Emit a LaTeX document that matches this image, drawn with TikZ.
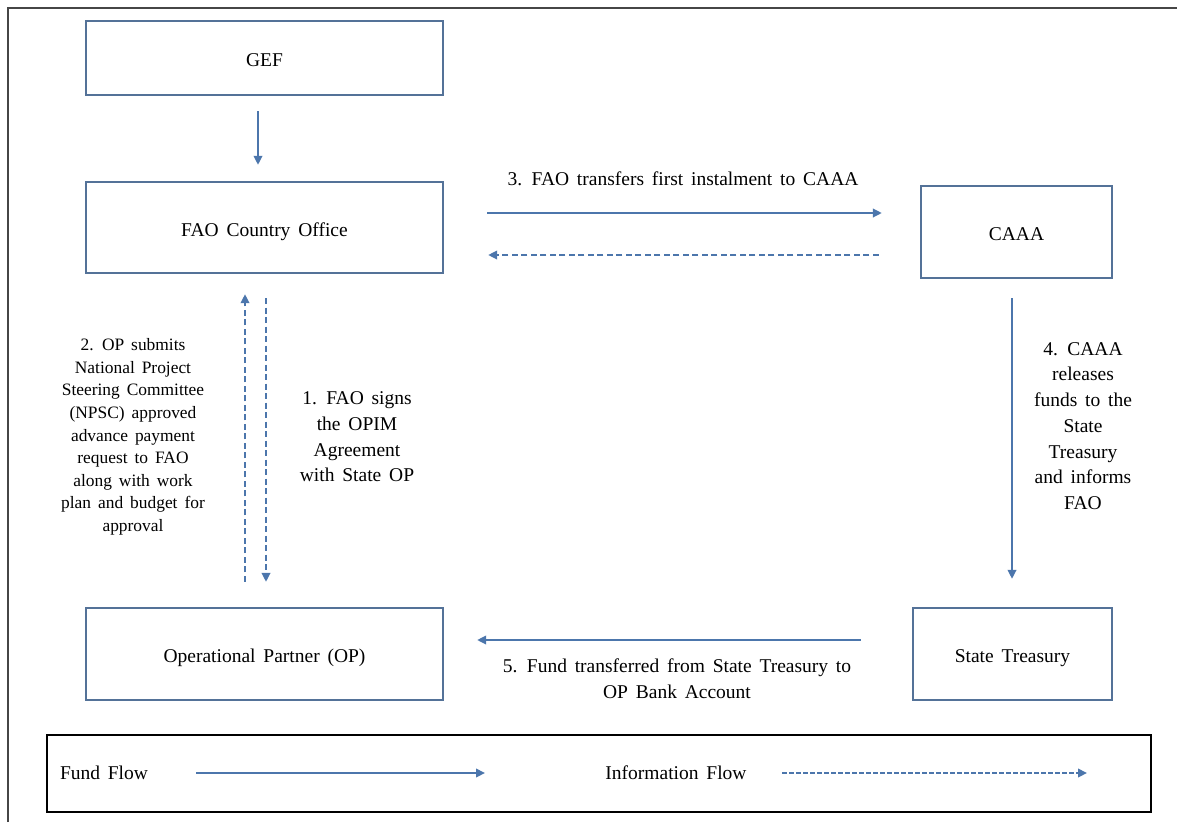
\documentclass[tikz,border=0pt]{standalone}
\usepackage{fontspec}
\setmainfont{Liberation Serif}[WordSpace=1.6]
\usetikzlibrary{arrows.meta,calc}
\definecolor{boxcol}{RGB}{84,114,152}
\definecolor{arrcol}{RGB}{76,118,172}
\definecolor{framecol}{RGB}{70,70,70}
\tikzset{
  txt/.style={font=\fontsize{19.5}{25.7}\selectfont, align=center, inner sep=0pt},
  txtsmall/.style={font=\fontsize{17.4}{22.6}\selectfont, align=center, inner sep=0pt},
  box/.style={draw=boxcol, line width=2.3pt, fill=white, inner sep=0pt, text height=17pt, text depth=0pt, font=\fontsize{19.5}{24}\selectfont},
  fund/.style={draw=arrcol, line width=2.1pt, arrows={-{Triangle[length=9pt,width=8.5pt,fill=arrcol]}}},
  info/.style={draw=arrcol, line width=2.1pt, dash pattern=on 6pt off 3.5pt, arrows={-{Triangle[length=9pt,width=8.5pt,fill=arrcol]}}},
  infosmall/.style={info, dash pattern=on 4.5pt off 2.5pt}
}
\begin{document}
\begin{tikzpicture}[x=1pt,y=-1pt]
\useasboundingbox (0,0) rectangle (1177,822);
% outer frame (cropped)
\draw[framecol, line width=1.5pt] (8,822) -- (8,8) -- (1177,8);

% boxes
\node[box, minimum width=357pt, minimum height=74pt] (gef) at (264.5,58) {GEF};
\node[box, minimum width=357pt, minimum height=91pt] (fao) at (264.5,227.5) {FAO Country Office};
\node[box, minimum width=191pt, minimum height=92pt] (caaa) at (1016.5,232) {CAAA};
\node[box, minimum width=357pt, minimum height=92pt] (op) at (264.5,654) {Operational Partner (OP)};
\node[box, minimum width=199pt, minimum height=92pt] (st) at (1012.5,654) {State Treasury};

% legend box
\node[draw=black, line width=2.6pt, minimum width=1104pt, minimum height=77pt, inner sep=0pt] (legend) at (599,773.5) {};

% arrows
\draw[fund, shorten <=15pt, shorten >=16pt] ([xshift=-6.5pt]gef.south) -- ([xshift=-6.5pt]fao.north);
\draw[fund, shorten <=43pt, shorten >=38pt] ([yshift=14.5pt]fao.east) -- ([yshift=14.5pt]fao.east -| caaa.west);
\draw[info, shorten <=41pt, shorten >=44pt] ([yshift=-27.5pt]fao.east -| caaa.west) -- ([yshift=-27.5pt]fao.east);
\draw[info, shorten <=25pt, shorten >=20pt] ([xshift=-19.5pt]op.north) -- ([xshift=-19.5pt]fao.south);
\draw[info, shorten <=24pt, shorten >=25pt] ([xshift=1.5pt]fao.south) -- ([xshift=1.5pt]op.north);
\draw[fund, shorten <=19pt, shorten >=28pt] ([xshift=-4.5pt]caaa.south) -- ([xshift=-4.5pt]caaa.south |- st.north);
\draw[fund, shorten <=51pt, shorten >=33pt] ([yshift=14pt]st.west) -- ([yshift=14pt]st.west -| op.east);

% labels
\node[txt] (l3) at (683,179) {3. FAO transfers first instalment to CAAA};
\node[txtsmall] (l2) at (133,437) {2. OP submits\\National Project\\Steering Committee\\(NPSC) approved\\advance payment\\request to FAO\\along with work\\plan and budget for\\approval};
\node[txt] (l1) at (357,437) {1. FAO signs\\the OPIM\\Agreement\\with State OP};
\node[txt] (l4) at (1083,426) {4. CAAA\\releases\\funds to the\\State\\Treasury\\and informs\\FAO};
\node[txt] (l5) at (677,679) {5. Fund transferred from State Treasury to\\OP Bank Account};

% legend content
\node[txt] (ff) at (104,773) {Fund Flow};
\node[txt] (if) at (676,773) {Information Flow};
\coordinate (lf1) at (196,773);
\coordinate (lf2) at (485,773);
\coordinate (li1) at (782,773);
\coordinate (li2) at (1087,773);
\draw[fund] (lf1) -- (lf2);
\draw[infosmall] (li1) -- (li2);
\end{tikzpicture}
\end{document}
